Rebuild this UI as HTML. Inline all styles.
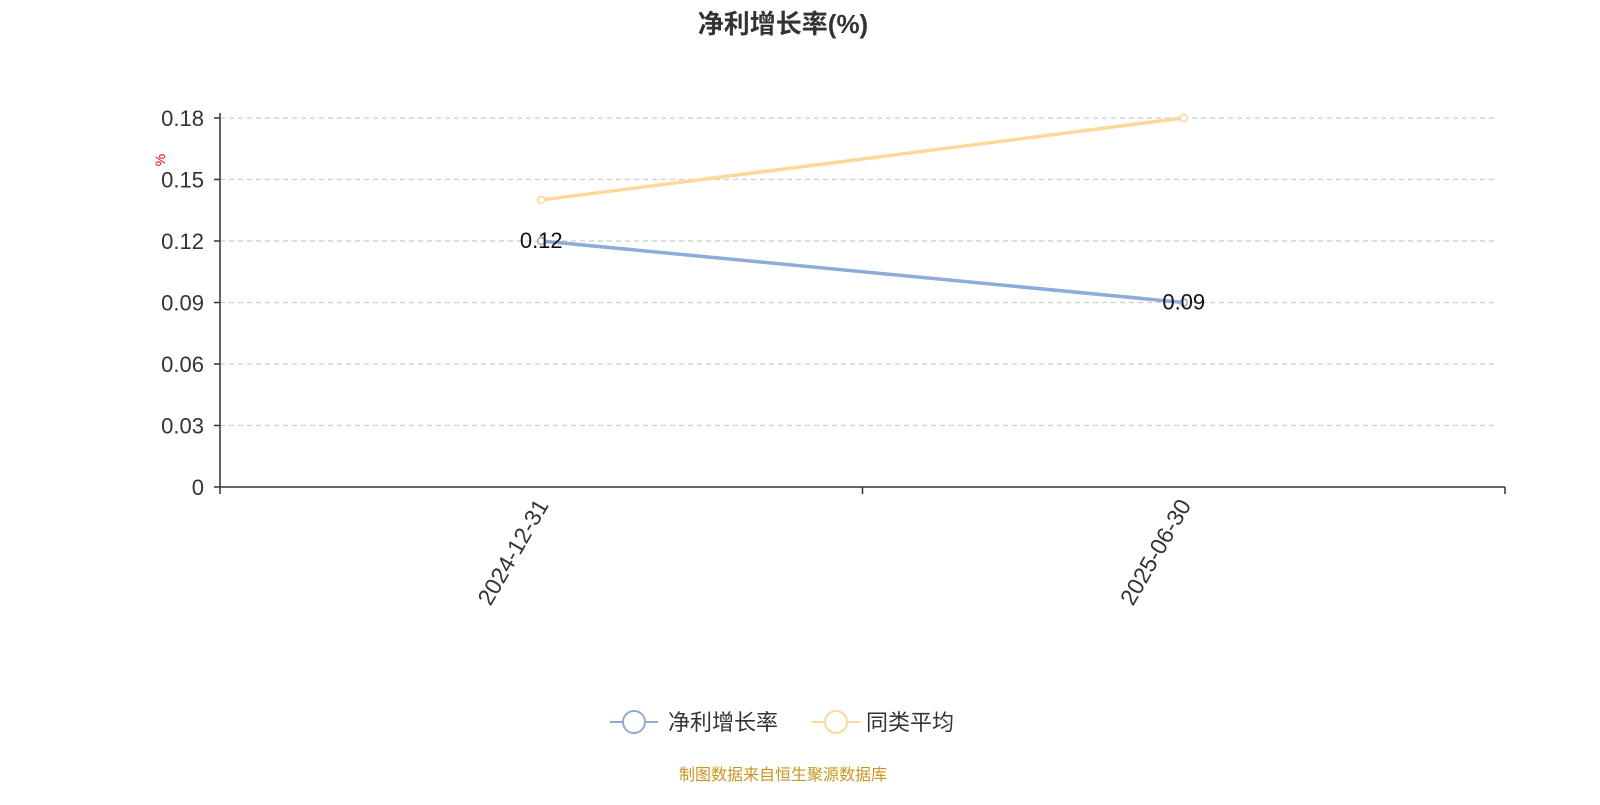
<!DOCTYPE html>
<html><head><meta charset="utf-8"><style>
body{margin:0;background:#fff;width:1600px;height:800px;overflow:hidden;font-family:"Liberation Sans","Noto Sans CJK SC",sans-serif}
</style></head><body>
<svg id="c" width="1600" height="800" xmlns="http://www.w3.org/2000/svg" font-family="Liberation Sans, Noto Sans CJK SC, sans-serif">
<text x="783" y="33" text-anchor="middle" font-size="26" font-weight="bold" fill="#333">净利增长率(%)</text>
<text x="160" y="160" font-size="14" fill="#e00" transform="rotate(-90 160 160)" text-anchor="middle" dy="5">%</text>
<g id="grid"></g><g id="axes"></g><g id="series"></g>
<g>
<g>
<line x1="610" y1="722" x2="658" y2="722" stroke="#8eacd9" stroke-width="2"/>
<circle cx="634" cy="722" r="11" fill="#fff" stroke="#8eacd9" stroke-width="2"/>
<text x="668" y="730" font-size="22" fill="#333">净利增长率</text></g>
<g>
<line x1="812" y1="722" x2="860" y2="722" stroke="#fdd898" stroke-width="2"/>
<circle cx="836" cy="722" r="11" fill="#fff" stroke="#fdd898" stroke-width="2"/>
<text x="866" y="730" font-size="22" fill="#333">同类平均</text></g>
</g>
<text x="783" y="780" text-anchor="middle" font-size="16" fill="#c8961e">制图数据来自恒生聚源数据库</text>
</svg>
<script>
const categories=["2024-12-31","2025-06-30"];
const netGrowth=[0.12,0.09];
const peerAvg=[0.14,0.18];
const yTicks=[0,0.03,0.06,0.09,0.12,0.15,0.18];
const yTickLabels=["0","0.03","0.06","0.09","0.12","0.15","0.18"];
const NS="http://www.w3.org/2000/svg";
const x0=220,x1=1505,y0=487,y1=118,yMax=0.18;
const bw=(x1-x0)/categories.length;
const xS=i=>x0+bw*(i+0.5);
const yS=v=>y0-(v/yMax)*(y0-y1);
function mk(t,a,p){const e=document.createElementNS(NS,t);for(const k in a)e.setAttribute(k,a[k]);p.appendChild(e);return e;}
const grid=document.getElementById('grid'),axes=document.getElementById('axes'),ser=document.getElementById('series');
yTicks.forEach((v,i)=>{
 if(v>0){const l=mk('line',{x1:x0,x2:1497,y1:yS(v),y2:yS(v),stroke:'#ccc','stroke-dasharray':'5,4','stroke-width':1.2},grid);
 
 }
 const tk=mk('line',{x1:x0-6,x2:x0,y1:yS(v),y2:yS(v),stroke:'#333','stroke-width':1.5},axes);
 
 
 const t=mk('text',{x:x0-16,y:yS(v)+8,'text-anchor':'end','font-size':22,fill:'#333'},axes);t.textContent=yTickLabels[i];
 
 
});
const ya=mk('line',{x1:x0,x2:x0,y1:y1-5,y2:y0,stroke:'#333','stroke-width':1.5},axes);


const xa=mk('line',{x1:x0,x2:x1,y1:y0,y2:y0,stroke:'#333','stroke-width':1.5},axes);


for(let i=0;i<=categories.length;i++){const t=mk('line',{x1:x0+bw*i,x2:x0+bw*i,y1:y0,y2:y0+7,stroke:'#333','stroke-width':1.5},axes);
 
 }
categories.forEach((c,i)=>{const x=xS(i)+8,y=y0+18;
 const t=mk('text',{x:x,y:y,'text-anchor':'end','font-size':23,fill:'#333',transform:`rotate(-60 ${x} ${y})`},axes);t.textContent=c;
 
 });
function line(vals,color,name,labels){
 const g=mk('g',{},ser);
 
 
 const p=mk('polyline',{points:vals.map((v,i)=>xS(i)+','+yS(v)).join(' '),fill:'none',stroke:color,'stroke-width':3.5},g);
 
 
 vals.forEach((v,i)=>{const c=mk('circle',{cx:xS(i),cy:yS(v),r:3.5,fill:'#fff',stroke:color,'stroke-width':1.5},g);
  
  
  if(labels){const t=mk('text',{x:xS(i),y:yS(v)+7,'text-anchor':'middle','font-size':22,fill:'#111'},g);t.textContent=String(v);
  
  }});
}
line(peerAvg,'#fdd898','peer-average-series',false);
line(netGrowth,'#8eacd9','net-growth-series',true);
</script>
</body></html>
